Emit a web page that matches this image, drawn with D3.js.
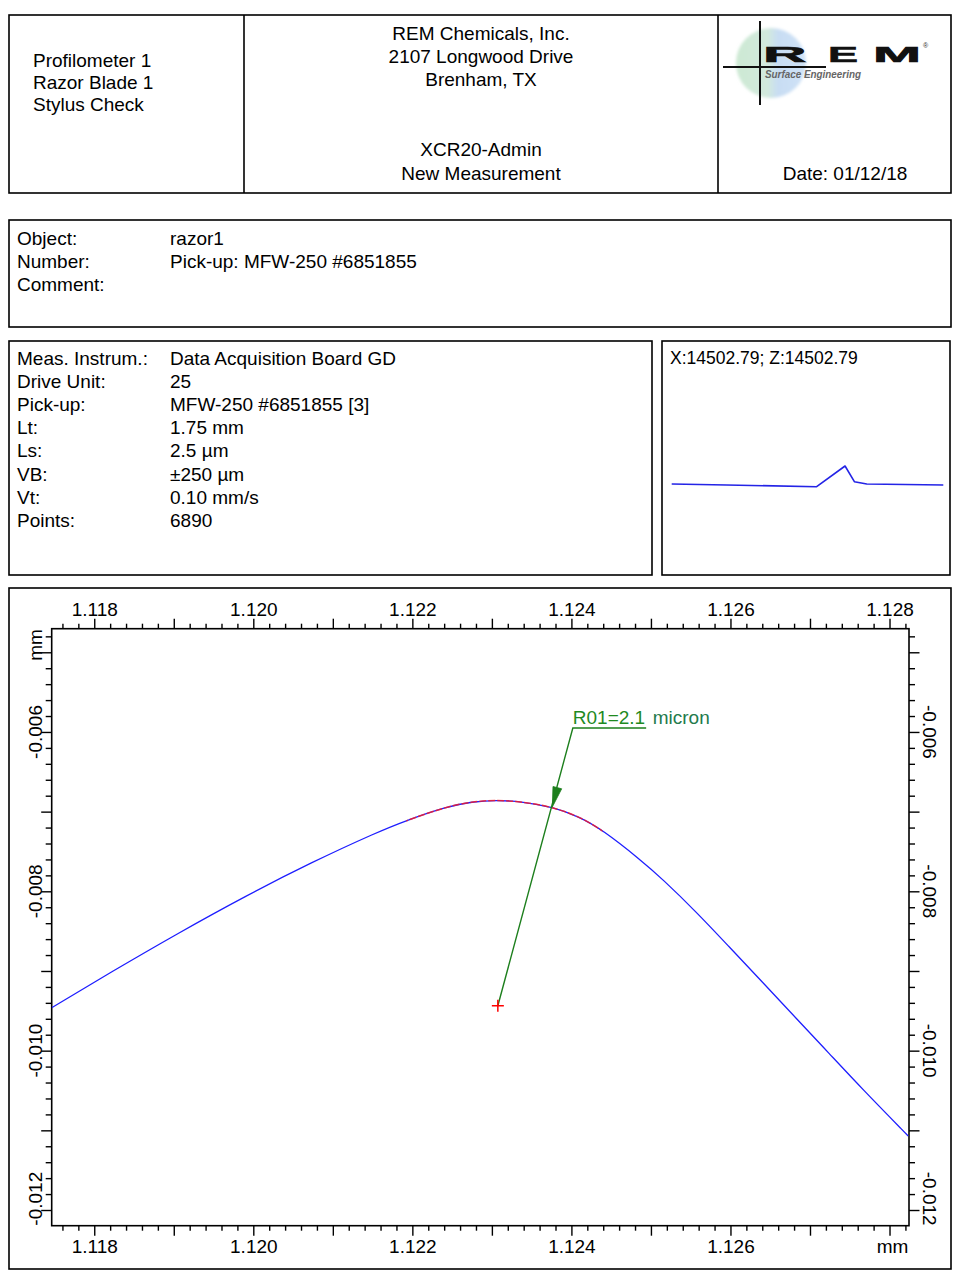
<!DOCTYPE html>
<html><head><meta charset="utf-8">
<script src="https://cdn.jsdelivr.net/npm/d3@7"></script>
<style>
html,body{margin:0;padding:0;background:#fff;}
svg{display:block;font-family:"Liberation Sans",Arial,Helvetica,sans-serif;}
</style></head><body>
<svg id="c" width="962" height="1287"></svg>
<script>
// ---------------- data ----------------
const headerLeft = ["Profilometer 1", "Razor Blade 1", "Stylus Check"];
const headerCenter = ["REM Chemicals, Inc.", "2107 Longwood Drive", "Brenham, TX"];
const headerCenterBottom = ["XCR20-Admin", "New Measurement"];
const dateText = "Date: 01/12/18";
const objLabels = ["Object:", "Number:", "Comment:"];
const objValues = ["razor1", "Pick-up: MFW-250 #6851855", ""];
const infoLabels = ["Meas. Instrum.:", "Drive Unit:", "Pick-up:", "Lt:", "Ls:", "VB:", "Vt:", "Points:"];
const infoValues = ["Data Acquisition Board GD", "25", "MFW-250 #6851855 [3]", "1.75 mm", "2.5 µm", "±250 µm", "0.10 mm/s", "6890"];
const previewTitle = "X:14502.79; Z:14502.79";

// overview profile (x in mm, z in µm, relative)
const miniX = [0, 0.354, 0.934, 1.117, 1.177, 1.257, 1.75];
const miniZ = [0, -1, -2.7, 18, 2.3, 0, -1];

// zoomed profile (mm)
const profileX = [1.117465, 1.118219, 1.119055, 1.119893, 1.120731, 1.121568, 1.121925, 1.122427, 1.12275,
                  1.123055, 1.123386, 1.123763, 1.124102, 1.124391, 1.124856, 1.125144, 1.125572, 1.125986,
                  1.126401, 1.126828, 1.127242, 1.127657, 1.128235];
const profileZ = [-0.009461, -0.009009, -0.008525, -0.008064, -0.007637, -0.007253, -0.007111, -0.006938, -0.006875,
                  -0.006854, -0.006875, -0.006942, -0.007064, -0.00723, -0.007594, -0.007845, -0.00826, -0.008699,
                  -0.009138, -0.009596, -0.010036, -0.010481, -0.011071];

// radius fit
const fitRange = [1.121925, 1.124391];
const fitCenter = [1.123075, -0.009436];
const fitArrowTip = [1.12376, -0.006942];
const fitLabelAnchor = [1.124018, -0.00595];
const fitLabelEndX = 1.12494;
const fitLabel = "R01=2.1";
const fitUnit = "micron";

const xDomain = [1.117465, 1.128245];
const yDomain = [-0.012197, -0.004704];
const xTickLabelsTop = ["1.118", "1.120", "1.122", "1.124", "1.126", "1.128"];
const xTickLabelsBottom = ["1.118", "1.120", "1.122", "1.124", "1.126"];
const yTickLabels = ["-0.006", "-0.008", "-0.010", "-0.012"];
const axisUnit = "mm";

// ---------------- drawing ----------------
const FS = 19;
const svg = d3.select("#c");
const defs = svg.append("defs");

function box(x, y, w, h) {
  svg.append("rect").attr("x", x).attr("y", y).attr("width", w).attr("height", h)
    .attr("fill", "none").attr("stroke", "#000").attr("stroke-width", 1.6);
}
function vline(x, y1, y2) {
  svg.append("line").attr("x1", x).attr("x2", x).attr("y1", y1).attr("y2", y2)
    .attr("stroke", "#000").attr("stroke-width", 1.6);
}
function txt(x, y, s, anchor, size, fill) {
  return svg.append("text").attr("x", x).attr("y", y).attr("text-anchor", anchor || "start")
    .attr("font-size", size || FS).attr("fill", fill || "#000").text(s);
}

// header box
box(9, 15, 942, 178);
vline(244, 15, 193);
vline(718, 15, 193);
headerLeft.forEach((s, i) => txt(33, 67 + i * 22, s));
headerCenter.forEach((s, i) => txt(481, 40 + i * 23, s, "middle"));
headerCenterBottom.forEach((s, i) => txt(481, 156 + i * 24, s, "middle"));
txt(845, 180, dateText, "middle");

// logo
const grad = defs.append("linearGradient").attr("id", "lg").attr("x1", "0").attr("x2", "1").attr("y1", "0").attr("y2", "0");
grad.append("stop").attr("offset", "0").attr("stop-color", "#cde9d3");
grad.append("stop").attr("offset", "0.45").attr("stop-color", "#d2e9dd");
grad.append("stop").attr("offset", "0.6").attr("stop-color", "#c8ddf3");
grad.append("stop").attr("offset", "1").attr("stop-color", "#cfe2f6");
defs.append("filter").attr("id", "blur").append("feGaussianBlur").attr("stdDeviation", 1.5);
const logo = svg.append("g");
logo.append("circle").attr("cx", 771).attr("cy", 63).attr("r", 35).attr("fill", "url(#lg)").attr("filter", "url(#blur)");
logo.append("line").attr("x1", 760).attr("x2", 760).attr("y1", 21).attr("y2", 105).attr("stroke", "#111").attr("stroke-width", 2);
logo.append("line").attr("x1", 723).attr("x2", 826).attr("y1", 67).attr("y2", 67).attr("stroke", "#111").attr("stroke-width", 2);
[["R", 763, 43.5], ["E", 828, 30], ["M", 873, 48]].forEach(([c, x, w]) => {
  logo.append("text").attr("x", x).attr("y", 62).attr("font-size", 22).attr("font-weight", "bold")
    .attr("textLength", w).attr("lengthAdjust", "spacingAndGlyphs").attr("fill", "#111")
    .attr("stroke", "#111").attr("stroke-width", 0.6).text(c);
});
logo.append("text").attr("x", 923).attr("y", 48).attr("font-size", 7).attr("fill", "#333").text("®");
logo.append("text").attr("x", 765).attr("y", 78).attr("font-size", 10.5).attr("font-style", "italic").attr("font-weight", "bold")
  .attr("textLength", 96).attr("lengthAdjust", "spacingAndGlyphs").attr("fill", "#666").text("Surface Engineering");

// object box
box(9, 220, 942, 107);
objLabels.forEach((s, i) => txt(17, 245 + i * 23, s));
objValues.forEach((s, i) => txt(170, 245 + i * 23, s));

// info box
box(9, 341, 643, 234);
infoLabels.forEach((s, i) => txt(17, 365 + i * 23.1, s));
infoValues.forEach((s, i) => txt(170, 365 + i * 23.1, s));

// preview box
box(662, 341, 288, 234);
txt(670, 364, previewTitle, "start", 17.5);
const mx = d3.scaleLinear().domain([0, 1.75]).range([671.7, 943.3]);
const mz = d3.scaleLinear().domain([-50, 50]).range([534, 434]);
svg.append("path").datum(miniX.map((v, i) => [v, miniZ[i]]))
  .attr("d", d3.line().x(d => mx(d[0])).y(d => mz(d[1])))
  .attr("fill", "none").attr("stroke", "#2424e6").attr("stroke-width", 1.6).attr("stroke-linejoin", "round");

// chart box
box(9, 588, 942, 681);
const P = { l: 51.7, t: 628.7, r: 909, b: 1225.7 };
const x = d3.scaleLinear().domain(xDomain).range([P.l, P.r]);
const y = d3.scaleLinear().domain(yDomain).range([P.b, P.t]);

const step = 0.0002;
const xi = d3.range(Math.ceil(xDomain[0] / step - 1e-6), Math.floor(xDomain[1] / step + 1e-6) + 1);
const yi = d3.range(Math.ceil(yDomain[0] / step - 1e-6), Math.floor(yDomain[1] / step + 1e-6) + 1);
const xMinor = xi.filter(i => i % 5 !== 0).map(i => +(i * step).toFixed(4));
const xMajor = xi.filter(i => i % 5 === 0).map(i => +(i * step).toFixed(4));
const yMinor = yi.filter(i => i % 5 !== 0).map(i => +(i * step).toFixed(4));
const yMajor = yi.filter(i => i % 5 === 0).map(i => +(i * step).toFixed(4));

function styleAxis(g) {
  g.select(".domain").remove();
  g.attr("font-family", null).attr("font-size", FS);
  g.selectAll("line").attr("stroke", "#000").attr("stroke-width", 1.4);
  g.selectAll("text").attr("fill", "#000");
}
function xAxes(gen, ty, labelPad, labels) {
  svg.append("g").attr("transform", `translate(0,${ty})`).call(gen(x).tickValues(xMinor).tickSize(5).tickFormat("")).call(styleAxis);
  svg.append("g").attr("transform", `translate(0,${ty})`).call(gen(x).tickValues(xMajor).tickSize(10).tickFormat("")).call(styleAxis);
  svg.append("g").attr("transform", `translate(0,${ty})`)
    .call(gen(x).tickValues(labels.map(Number)).tickSize(0).tickPadding(labelPad).tickFormat((d, i) => labels[i]))
    .call(styleAxis);
}
xAxes(d3.axisTop, P.t, 13, xTickLabelsTop);
xAxes(d3.axisBottom, P.b, 14, xTickLabelsBottom);

function yAxes(gen, tx) {
  svg.append("g").attr("transform", `translate(${tx},0)`).call(gen(y).tickValues(yMinor).tickSize(6).tickFormat("")).call(styleAxis);
  svg.append("g").attr("transform", `translate(${tx},0)`).call(gen(y).tickValues(yMajor).tickSize(10.5).tickFormat("")).call(styleAxis);
}
yAxes(d3.axisLeft, P.l);
yAxes(d3.axisRight, P.r);

const halfLab = 27;
yTickLabels.forEach(s => {
  const v = +s;
  const cy = Math.max(P.t + halfLab, Math.min(P.b - halfLab, y(v)));
  svg.append("text").attr("transform", `translate(41.5,${cy}) rotate(-90)`).attr("text-anchor", "middle")
    .attr("font-size", FS).text(s);
  svg.append("text").attr("transform", `translate(923,${cy}) rotate(90)`).attr("text-anchor", "middle")
    .attr("font-size", FS).text(s);
});
svg.append("text").attr("transform", `translate(41.5,645) rotate(-90)`).attr("text-anchor", "middle").attr("font-size", FS).text(axisUnit);
svg.append("text").attr("x", 892.5).attr("y", 1253).attr("text-anchor", "middle").attr("font-size", FS).text(axisUnit);

// frame
svg.append("rect").attr("x", P.l).attr("y", P.t).attr("width", P.r - P.l).attr("height", P.b - P.t)
  .attr("fill", "none").attr("stroke", "#000").attr("stroke-width", 1.6);

// profile
defs.append("clipPath").attr("id", "plot").append("rect")
  .attr("x", P.l).attr("y", P.t).attr("width", P.r - P.l).attr("height", P.b - P.t);
defs.append("clipPath").attr("id", "fitclip").append("rect")
  .attr("x", x(fitRange[0])).attr("width", x(fitRange[1]) - x(fitRange[0]))
  .attr("y", P.t).attr("height", P.b - P.t);
const pts = profileX.map((v, i) => [v, profileZ[i]]);
const line = d3.line().x(d => x(d[0])).y(d => y(d[1])).curve(d3.curveBasis);
const plot = svg.append("g").attr("clip-path", "url(#plot)");
plot.append("path").datum(pts).attr("d", line).attr("fill", "none")
  .attr("stroke", "#1e1eff").attr("stroke-width", 1.3);
// fitted arc drawn over the profile, limited to the fit range
svg.append("g").attr("clip-path", "url(#fitclip)").append("path").datum(pts).attr("d", line)
  .attr("fill", "none").attr("stroke", "#ff1a1a").attr("stroke-width", 1.5)
  .attr("stroke-opacity", 0.8).attr("stroke-dasharray", "7,2");

// annotation
const green = "#1d7f1d";
const cx = x(fitCenter[0]), cy = y(fitCenter[1]);
const ax = x(fitLabelAnchor[0]), ay = y(fitLabelAnchor[1]);
const tx = x(fitArrowTip[0]), ty = y(fitArrowTip[1]);
svg.append("path").attr("d", `M${cx},${cy}L${ax},${ay}L${x(fitLabelEndX)},${ay}`)
  .attr("fill", "none").attr("stroke", green).attr("stroke-width", 1.4);
{
  const dx = tx - ax, dy = ty - ay, L = Math.hypot(dx, dy);
  const ux = dx / L, uy = dy / L, len = 20, hw = 4.5;
  const bx = tx - ux * len, by = ty - uy * len;
  svg.append("path").attr("d", `M${tx},${ty}L${bx - uy * hw},${by + ux * hw}L${bx + uy * hw},${by - ux * hw}Z`)
    .attr("fill", green).attr("stroke", green).attr("stroke-width", 0.8);
}
svg.append("path").attr("d", `M${cx - 6},${cy}H${cx + 6}M${cx},${cy - 6}V${cy + 6}`)
  .attr("stroke", "#ff0000").attr("stroke-width", 1.5).attr("fill", "none");
const lab = svg.append("text").attr("x", ax).attr("y", ay - 3.5).attr("font-size", FS).attr("fill", "#1f8a1f").text(fitLabel);
const lw = lab.node().getComputedTextLength();
svg.append("text").attr("x", ax + lw + 7.5).attr("y", ay - 3.5).attr("font-size", FS).attr("fill", "#237a4c").text(fitUnit);
</script>
</body></html>
